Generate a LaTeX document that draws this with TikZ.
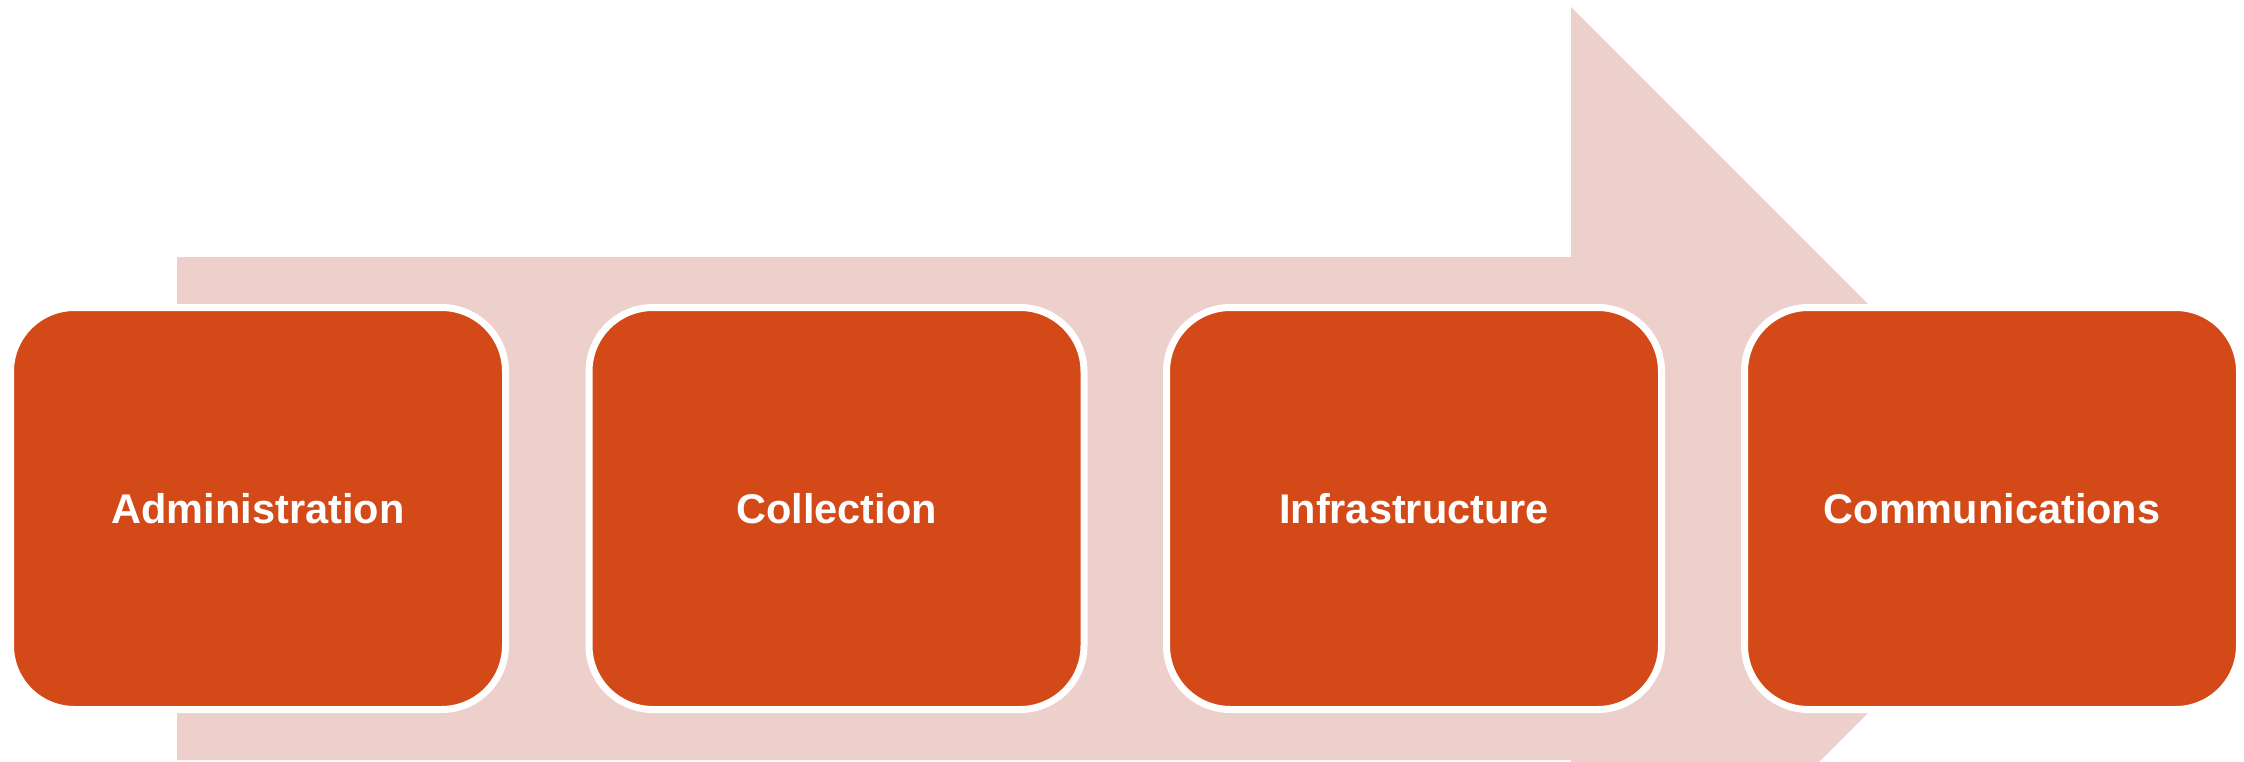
\documentclass[tikz,border=0pt]{standalone}
\usepackage{fontspec}
\setmainfont{Liberation Sans}
\usepackage{tikz}
\definecolor{stageorange}{HTML}{D34A18}
\definecolor{arrowpink}{HTML}{EDCFCC}

\begin{document}
\begin{tikzpicture}
            [every node/.style={inner sep=0pt},
             stage/.style={rectangle, rounded corners=64pt, minimum width=495pt, minimum height=402pt, fill=stageorange, line width=7pt, draw=white, text=white, font=\fontsize{41.5pt}{48pt}\selectfont\bfseries}]
                \useasboundingbox (0pt, 0pt) rectangle (2244pt, -761pt);
                \clip (0pt, 0pt) rectangle (2244pt, -761pt);
                % big arrow behind the stages
                \fill [arrowpink] (177pt, -257pt) -- (1571pt, -257pt) -- (1571pt, -7pt) -- (2072.5pt, -508.5pt) -- (1571pt, -1010pt) -- (1571pt, -760pt) -- (177pt, -760pt) -- cycle;
                \node (1) [stage] at (258pt, -508.5pt) {Administration};
                \node (2) [stage] at (836.5pt, -508.5pt) {Collection};
                \node (3) [stage] at (1414pt, -508.5pt) {Infrastructure};
                \node (4) [stage] at (1992pt, -508.5pt) {Communications};
            \end{tikzpicture}
\end{document}
